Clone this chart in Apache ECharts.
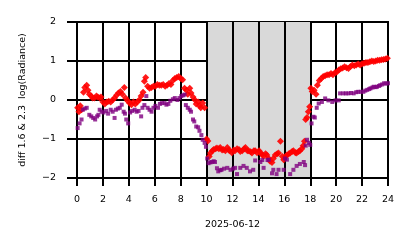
<!DOCTYPE html>
<html><head><meta charset="utf-8">
<script src="https://cdn.jsdelivr.net/npm/echarts@6/dist/echarts.min.js"></script>
<style>html,body{margin:0;padding:0;background:#fff}#c{width:414px;height:248px}</style></head>
<body><div id="c"></div><script>
// x axis: hours of 2025-06-12
const dateLabel = '2025-06-12';
const yTitle = 'diff 1.6 & 2.3  log(Radiance)';
const xTickLabels = ['0','2','4','6','8','10','12','14','16','18','20','22','24'];
const yTickLabels = ['−2','−1','0','1','2'];
const shadeStart = 10, shadeEnd = 18;

// red series (diamonds)
const redHours = [0.05,0.15,0.25,0.35,0.5,0.6,0.75,0.85,0.95,1.1,1.2,1.35,1.5,1.6,1.75,1.85,2.0,2.15,2.3,2.45,2.6,2.75,2.9,3.05,3.2,3.35,3.5,3.65,3.75,3.9,4.05,4.2,4.35,4.5,4.65,4.8,4.95,5.1,5.2,5.3,5.45,5.6,5.75,5.9,6.05,6.2,6.35,6.5,6.65,6.8,6.95,7.1,7.25,7.4,7.55,7.7,7.85,8.0,8.15,8.3,8.45,8.55,8.7,8.8,8.95,9.1,9.2,9.35,9.45,9.55,9.7,9.85,10.0,10.1,10.2,10.3,10.45,10.55,10.7,10.8,10.95,11.05,11.2,11.3,11.45,11.6,11.7,11.8,11.95,12.1,12.2,12.35,12.5,12.6,12.75,12.9,13.0,13.15,13.25,13.4,13.5,13.65,13.75,13.9,14.05,14.15,14.3,14.4,14.55,14.65,14.8,14.9,15.05,15.15,15.3,15.45,15.55,15.7,15.85,15.95,16.1,16.2,16.35,16.45,16.6,16.7,16.85,16.95,17.1,17.2,17.35,17.45,17.55,17.65,17.75,17.85,17.95,18.05,18.15,18.3,18.45,18.55,18.7,18.85,19.0,19.15,19.3,19.45,19.6,19.75,19.9,20.05,20.2,20.35,20.5,20.65,20.8,20.95,21.1,21.25,21.4,21.55,21.7,21.85,22.0,22.15,22.3,22.45,22.6,22.75,22.9,23.05,23.2,23.35,23.5,23.65,23.8,23.95];
const redValues = [-0.2,-0.3,-0.15,-0.25,0.2,0.32,0.38,0.25,0.15,0.1,0.05,0.05,0.1,0.08,0.05,0.08,-0.05,-0.1,-0.05,-0.03,-0.05,0.0,0.05,0.12,0.18,0.22,0.15,0.32,0.05,-0.02,-0.08,-0.12,-0.05,-0.1,-0.05,0.0,0.1,0.2,0.48,0.58,0.35,0.3,0.32,0.35,0.35,0.4,0.38,0.38,0.4,0.35,0.38,0.42,0.4,0.5,0.55,0.58,0.6,0.55,0.52,0.3,0.25,0.15,0.3,0.18,0.08,0.0,-0.1,-0.05,-0.15,-0.2,-0.08,-0.2,-1.0,-1.05,-1.45,-1.36,-1.3,-1.27,-1.25,-1.23,-1.25,-1.22,-1.28,-1.27,-1.3,-1.22,-1.28,-1.3,-1.35,-1.28,-1.3,-1.25,-1.27,-1.32,-1.3,-1.25,-1.22,-1.3,-1.3,-1.33,-1.36,-1.3,-1.3,-1.35,-1.3,-1.36,-1.4,-1.44,-1.38,-1.41,-1.5,-1.57,-1.6,-1.5,-1.41,-1.38,-1.36,-1.06,-1.45,-1.53,-1.45,-1.41,-1.38,-1.36,-1.32,-1.3,-1.35,-1.36,-1.32,-1.3,-1.25,-1.17,-1.06,-0.5,-0.45,-0.3,-0.17,0.3,0.22,0.25,0.15,0.38,0.5,0.55,0.6,0.62,0.65,0.65,0.68,0.65,0.7,0.72,0.77,0.8,0.82,0.85,0.83,0.81,0.86,0.9,0.88,0.9,0.92,0.9,0.93,0.94,0.96,0.96,0.98,1.0,0.99,1.0,1.02,1.02,1.03,1.04,1.05,1.07];

// purple series (squares)
const purpleHours = [0.05,0.2,0.35,0.45,0.6,0.75,0.95,1.1,1.25,1.4,1.55,1.65,1.75,1.9,2.05,2.25,2.4,2.6,2.75,2.9,3.0,3.15,3.3,3.45,3.6,3.7,3.8,3.95,4.1,4.25,4.45,4.6,4.75,4.95,5.05,5.2,5.35,5.45,5.6,5.75,5.9,6.05,6.25,6.4,6.55,6.75,6.9,7.05,7.2,7.4,7.55,7.75,7.9,8.05,8.2,8.3,8.4,8.55,8.7,8.8,8.95,9.05,9.2,9.35,9.45,9.6,9.7,9.85,9.95,10.05,10.15,10.3,10.4,10.55,10.65,10.8,10.9,11.05,11.15,11.35,11.6,11.85,12.05,12.2,12.35,12.6,12.85,13.1,13.35,13.6,13.75,14.15,14.3,14.4,14.7,14.8,15.05,15.15,15.4,15.55,15.95,16.05,16.2,16.45,16.7,16.95,17.2,17.5,17.6,17.65,17.75,17.9,18.0,18.1,18.25,18.35,18.5,18.65,18.9,19.15,19.4,19.7,19.95,20.2,20.3,20.55,20.75,20.95,21.15,21.35,21.55,21.7,21.9,22.1,22.25,22.4,22.55,22.65,22.8,22.9,23.05,23.15,23.3,23.4,23.55,23.7,23.85,24.0];
const purpleValues = [-0.72,-0.6,-0.5,-0.25,-0.22,-0.2,-0.38,-0.42,-0.46,-0.5,-0.42,-0.38,-0.25,-0.3,-0.32,-0.28,-0.35,-0.25,-0.3,-0.46,-0.25,-0.22,-0.2,-0.12,-0.3,-0.35,-0.5,-0.6,-0.32,-0.28,-0.25,-0.3,-0.28,-0.42,-0.2,-0.13,0.1,-0.2,-0.25,-0.3,-0.2,-0.15,-0.2,-0.1,-0.08,-0.08,-0.12,-0.1,-0.02,0.02,0.05,0.0,0.05,0.1,0.12,0.14,-0.13,-0.2,-0.25,-0.3,-0.5,-0.55,-0.68,-0.7,-0.79,-0.9,-1.02,-1.1,-1.2,-1.5,-1.62,-1.6,-1.59,-1.57,-1.59,-1.75,-1.83,-1.8,-1.79,-1.76,-1.74,-1.79,-1.76,-1.74,-1.9,-1.74,-1.69,-1.74,-1.83,-1.79,-1.55,-1.59,-1.54,-1.74,-1.54,-1.53,-1.88,-1.79,-1.9,-1.79,-1.79,-1.5,-1.53,-1.9,-1.79,-1.69,-1.64,-1.59,-1.67,-1.17,-1.02,-1.1,-1.15,-0.6,-0.43,-0.45,-0.2,-0.09,-0.05,0.04,-0.01,-0.05,-0.01,-0.01,0.17,0.17,0.17,0.17,0.18,0.17,0.2,0.21,0.21,0.21,0.24,0.26,0.28,0.3,0.32,0.34,0.33,0.34,0.36,0.38,0.4,0.43,0.42,0.43];

const redData = redHours.map((h, i) => [h, redValues[i]]);
const purpleData = purpleHours.map((h, i) => [h, purpleValues[i]]);

const FONT = 'DejaVu Sans';
const black = '#000';
// split-area colours per 2-hour band: shaded between shadeStart and shadeEnd
const bandColors = xTickLabels.slice(0, -1).map((_, i) => {
  const a = i * 2;
  return (a >= shadeStart && a < shadeEnd) ? '#d9d9d9' : 'rgba(255,255,255,0)';
});
const chart = echarts.init(document.getElementById('c'), null, {renderer: 'canvas'});
chart.setOption({
  animation: false,
  backgroundColor: '#fff',
  grid: {left: 77, right: 26, top: 22, bottom: 70, show: true, borderColor: black, borderWidth: 2, backgroundColor: 'rgba(0,0,0,0)'},
  xAxis: {
    type: 'value', min: 0, max: 24, interval: 2,
    name: dateLabel, nameLocation: 'middle', nameGap: 42,
    nameTextStyle: {fontFamily: FONT, fontSize: 9.5, color: black},
    axisLine: {show: true, onZero: false, lineStyle: {color: black, width: 2}},
    axisTick: {show: true, length: 8, lineStyle: {color: black, width: 2}},
    axisLabel: {margin: 17, fontFamily: FONT, fontSize: 9.5, color: black,
      formatter: v => xTickLabels[Math.round(v / 2)]},
    splitLine: {show: true, showMinLine: true, showMaxLine: true, lineStyle: {color: black, width: 2, type: 'solid'}},
    splitArea: {show: true, areaStyle: {color: bandColors}}
  },
  yAxis: {
    type: 'value', min: -2, max: 2, interval: 1,
    name: yTitle, nameLocation: 'middle', nameGap: 49, nameRotate: 90,
    nameTextStyle: {fontFamily: FONT, fontSize: 9.5, color: black},
    axisLine: {show: true, onZero: false, lineStyle: {color: black, width: 2}},
    axisTick: {show: true, length: 10, lineStyle: {color: black, width: 2}},
    axisLabel: {margin: 21, fontFamily: FONT, fontSize: 9.5, color: black,
      formatter: v => yTickLabels[Math.round(v + 2)]},
    splitLine: {show: true, showMinLine: true, showMaxLine: true, lineStyle: {color: black, width: 2, type: 'solid'}}
  },
  series: [
    {
      type: 'scatter', data: redData, symbol: 'diamond', symbolSize: 7,
      itemStyle: {color: '#ff0000', opacity: 0.9}
    },
    {
      type: 'scatter', data: purpleData, symbol: 'rect', symbolSize: 4,
      itemStyle: {color: '#800080'}
    }
  ]
});
</script></body></html>
